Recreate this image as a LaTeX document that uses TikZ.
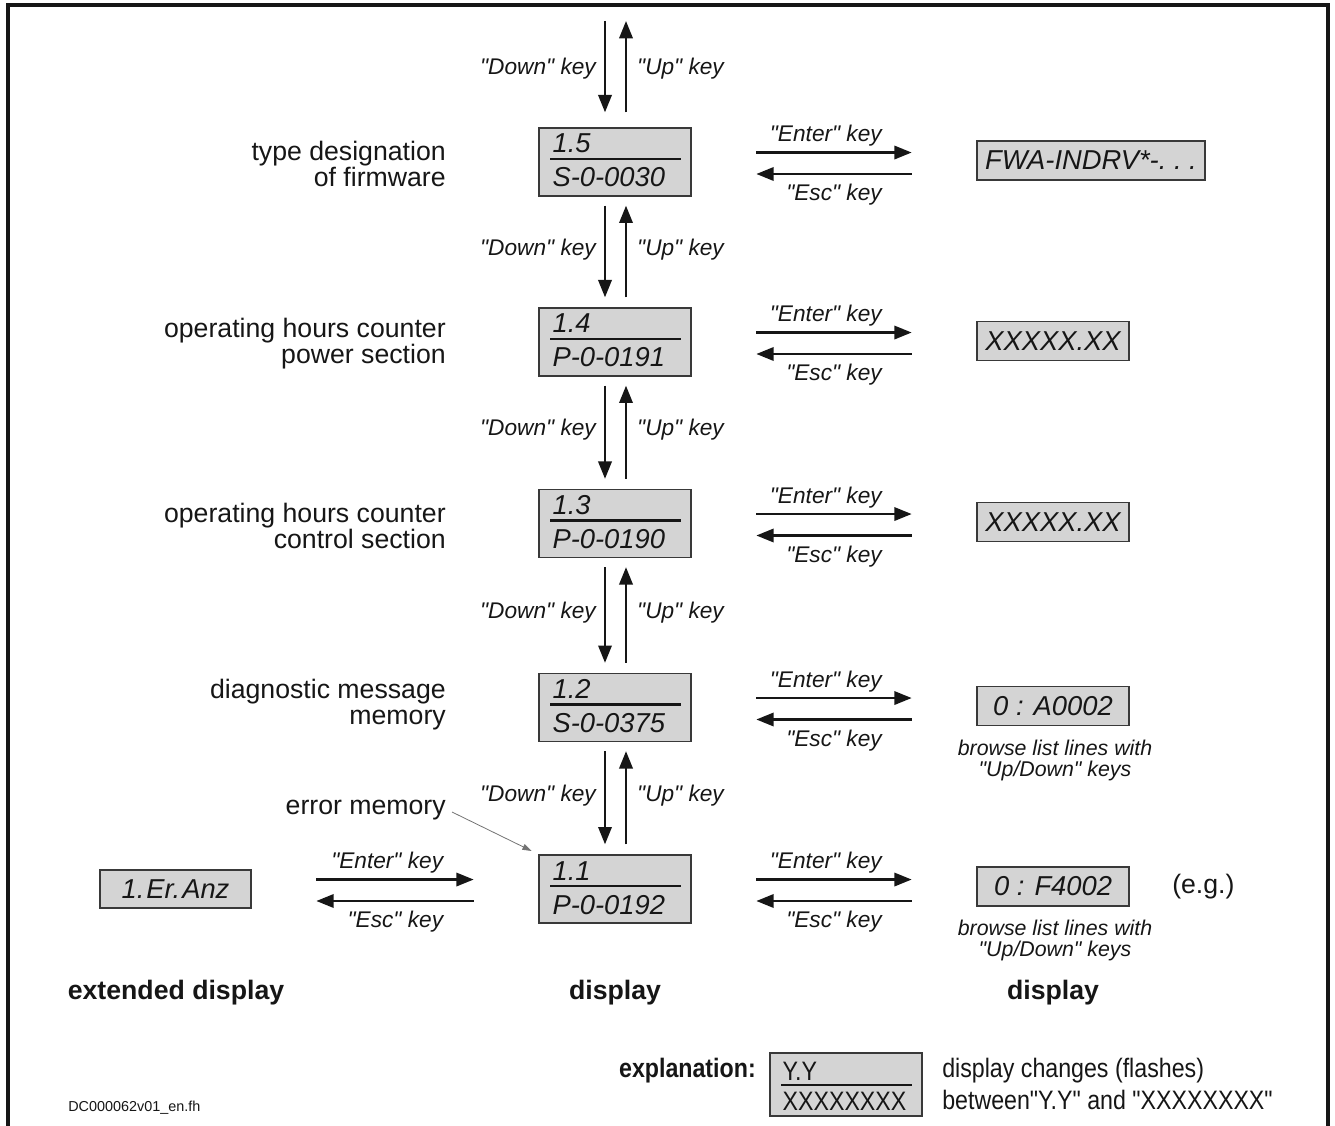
\documentclass[tikz,border=0pt]{standalone}
\usepackage{graphicx}
\usepackage{fontspec}
\setmainfont{Liberation Sans}[Ligatures=TeXOff]
\usetikzlibrary{arrows.meta,calc}
\definecolor{boxgray}{RGB}{212,212,212}
\definecolor{ink}{RGB}{22,22,22}

% parameter display: number above a rule, parameter below
\newcommand\paramdisplay[4]{%
  \node[dispbox] (#1) at (#2) {};
  \node[boxtext] at ($(#1.west)+(14,-9)$) {#3};
  \draw[rulebar] ($(#1.west)+(12,-3)$) -- ($(#1.east)+(-11,-3)$);
  \node[boxtext] at ($(#1.west)+(14,25)$) {#4};
}
% "Enter"/"Esc" arrow pair between two nodes on one row
\newcommand\enterescpair[2]{%
  \draw[keyarrow, shorten <=48.5pt, shorten >=48.5pt]
    ([yshift=7.1pt]#1.east) -- ([yshift=7.1pt]#1.east -| #2.west)
    node[keylabel, pos=0.672, anchor=base east, yshift=8.25pt] {"Enter" key};
  \draw[keyarrow, shorten <=48.5pt, shorten >=48.5pt]
    ([yshift=-9pt]#1.east -| #2.west) -- ([yshift=-9pt]#1.east)
    node[keylabel, pos=0.328, anchor=base east, yshift=-19.9pt] {"Esc" key};
}
% "Down"/"Up" arrow pair between two stacked displays
\newcommand\downuppair[2]{%
  \draw[keyarrow, shorten <=6.75pt, shorten >=7.5pt]
    ([xshift=-7.5pt]#1.south) -- ([xshift=-7.5pt]#2.north)
    node[keylabel, midway, anchor=east, xshift=-6pt, yshift=2pt] {"Down" key};
  \draw[keyarrow, shorten <=7.5pt, shorten >=6.75pt]
    ([xshift=8.25pt]#2.north) -- ([xshift=8.25pt]#1.south)
    node[keylabel, midway, anchor=west, xshift=7.5pt, yshift=2pt] {"Up" key};
}

\begin{document}
\begin{tikzpicture}[x=0.75pt,y=-0.75pt,
  every node/.style={text=ink, inner sep=0pt},
  keyarrow/.style={line width=1.8pt, draw=ink, -{Triangle[length=13pt,width=10pt]}},
  thinarrow/.style={line width=0.6pt, draw=black!55, -{Triangle[length=7pt,width=4.5pt]}},
  rulebar/.style={line width=1.9pt, draw=ink},
  dispbox/.style={draw=ink!85, line width=1pt, fill=boxgray, minimum width=114pt, minimum height=51pt},
  valbox/.style={draw=ink!85, line width=1pt, fill=boxgray, minimum height=29.25pt,
    font=\fontsize{20.5}{24}\selectfont\itshape},
  boxtext/.style={font=\fontsize{20.5}{24}\selectfont\itshape, anchor=base west},
  keylabel/.style={font=\fontsize{17}{20}\selectfont\itshape},
  desc/.style={font=\fontsize{20}{19.5}\selectfont, align=right, anchor=east},
  hint/.style={font=\fontsize{16}{16}\selectfont\itshape, align=center},
  heading/.style={font=\fontsize{20}{24}\selectfont\bfseries},
  legend/.style={font=\fontsize{20}{24}\selectfont},
]
\useasboundingbox (0,0) rectangle (1335,1126);

% outer frame, open at the bottom
\draw[line width=2.4pt, draw=ink] (8,1126) -- (8,5) -- (1328,5) -- (1328,1126);

% main column of displays
\paramdisplay{b15}{615,162}{1.5}{S-0-0030}
\paramdisplay{b14}{615,342}{1.4}{P-0-0191}
\paramdisplay{b13}{615,523.5}{1.3}{P-0-0190}
\paramdisplay{b12}{615,707.5}{1.2}{S-0-0375}
\paramdisplay{b11}{615,889}{1.1}{P-0-0192}

% value displays on the right
\node[valbox, minimum width=171pt] (r15) at (1091,160.5) {FWA-INDRV*-.\ .\ .};
\node[valbox, minimum width=114pt] (r14) at (1053,341) {XXXXX.XX};
\node[valbox, minimum width=114pt] (r13) at (1053,522) {XXXXX.XX};
\node[valbox, minimum width=114pt] (r12) at (1053,706) {0 : A0002};
\node[valbox, minimum width=114pt] (r11) at (1053,886.5) {0 : F4002};

% extended display on the left
\node[valbox, minimum width=113.25pt, minimum height=28.5pt] (e11) at (175.5,889) {1.\kern1.5pt Er.\kern1.5pt Anz};

% descriptions
\node[desc] (d15) at (446,164) {type designation\\of firmware};
\node[desc] (d14) at (446,344) {operating hours counter\\power section};
\node[desc] (d13) at (446,526) {operating hours counter\\control section};
\node[desc] (d12) at (446,704.5) {diagnostic message\\memory};
\node[desc] (d11) at (446,810) {error memory};
\draw[thinarrow] ([xshift=4.5pt,yshift=-1.5pt]d11.east) -- ([xshift=-5pt,yshift=2.5pt]b11.north west);

% Down / Up navigation
\coordinate (topdown) at (605,21);
\coordinate (topup) at (626,21);
\draw[keyarrow, shorten >=11.25pt] (topdown) -- (topdown |- b15.north)
  node[keylabel, pos=0.47, anchor=east, xshift=-6pt, yshift=2pt] {"Down" key};
\draw[keyarrow, shorten <=11.25pt] (topup |- b15.north) -- (topup)
  node[keylabel, pos=0.53, anchor=west, xshift=7.5pt, yshift=2pt] {"Up" key};
\downuppair{b15}{b14}
\downuppair{b14}{b13}
\downuppair{b13}{b12}
\downuppair{b12}{b11}

% Enter / Esc navigation
\enterescpair{b15}{r15}
\enterescpair{b14}{r14}
\enterescpair{b13}{r13}
\enterescpair{b12}{r12}
\enterescpair{b11}{r11}
\enterescpair{e11}{b11}

% notes beside the lists
\node[hint] (h12) at (1055,760.5) {browse list lines with\\"Up/Down" keys};
\node[hint] (h11) at (1055,940.5) {browse list lines with\\"Up/Down" keys};
\node[legend, anchor=west] (eg) at (1172,887) {(e.g.)};

% column headings
\node[heading] (hx) at (176,993) {extended display};
\node[heading] (hm) at (615,993) {display};
\node[heading] (hr) at (1053,993) {display};

% legend
\node[legend, anchor=east, font=\fontsize{20}{24}\selectfont\bfseries] (lx) at (756,1071) {\scalebox{0.87}[1]{explanation:}};
\node[dispbox, minimum height=47.25pt] (lb) at (846,1084.5) {};
\node[legend, anchor=base west] at ($(lb.west)+(13,-4.5)$) {\scalebox{0.87}[1]{Y.Y}};
\draw[rulebar] ($(lb.west)+(12,0.5)$) -- ($(lb.east)+(-11,0.5)$);
\node[legend, anchor=base west] at ($(lb.west)+(13,25.5)$) {\scalebox{0.87}[1]{XXXXXXXX}};
\node[legend, anchor=west] (l1) at (942,1071) {\scalebox{0.87}[1]{display changes (flashes)}};
\node[legend, anchor=west] (l2) at (942,1100) {\scalebox{0.87}[1]{between"Y.Y" and "XXXXXXXX"}};

% drawing reference
\node[font=\fontsize{10.8}{13}\selectfont, anchor=west] (ref) at (68,1108) {DC000062v01\_en.fh};
\end{tikzpicture}
\end{document}
